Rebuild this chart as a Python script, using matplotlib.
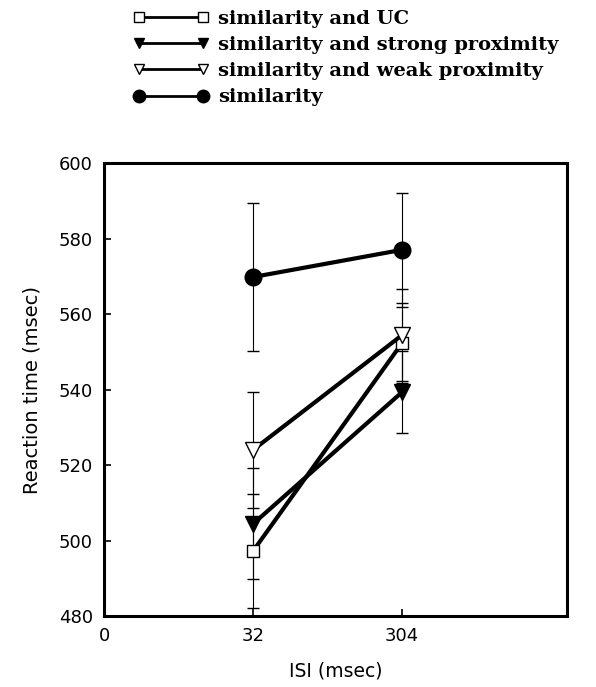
import matplotlib
matplotlib.use("Agg")
import matplotlib.pyplot as plt

isi_labels = ["32", "304"]
x_tick_labels = ["0", "32", "304"]

series_names = ["similarity and UC", "similarity and strong proximity",
                "similarity and weak proximity", "similarity"]
uc_rt = [497.2, 552.3]
uc_err = [15.0, 10.6]
strong_rt = [504.4, 539.3]
strong_err = [14.7, 10.8]
weak_rt = [524.0, 554.4]
weak_err = [15.3, 12.2]
sim_rt = [569.8, 577.0]
sim_err = [19.5, 15.1]

fig = plt.figure(figsize=(5.96, 6.87), dpi=100)
ax = fig.add_axes([0.1745, 0.1033, 0.7768, 0.6594])

xpos = [1, 2]
styles = [
    (uc_rt, uc_err, dict(marker="s", markersize=8, markerfacecolor="white"), 6.5),
    (strong_rt, strong_err, dict(marker="v", markersize=11, markerfacecolor="black"), 7.5),
    (weak_rt, weak_err, dict(marker="v", markersize=11, markerfacecolor="white"), 7.5),
    (sim_rt, sim_err, dict(marker="o", markersize=12, markerfacecolor="black"), 9),
]
handles = []
leg_sizes = []
for (vals, errs, st, lsz), name in zip(styles, series_names):
    ax.errorbar(xpos, vals, yerr=errs, fmt="none", ecolor="black",
                elinewidth=0.8, capsize=4, capthick=1.0, zorder=2)
    h, = ax.plot(xpos, vals, color="black", linewidth=3,
                 markeredgecolor="black", markeredgewidth=1.0,
                 label=name, zorder=3, **st)
    handles.append(h)
    leg_sizes.append(lsz)

ax.set_xlim(0, 3.107)
ax.set_ylim(480, 600)
ax.set_xticks([0, 1, 2])
ax.set_xticklabels(x_tick_labels)
ax.set_yticks(range(480, 601, 20))
ax.tick_params(direction="in", length=5, width=1.2, labelsize=13, pad=8)
for s in ax.spines.values():
    s.set_linewidth(2.2)
ax.set_xlabel("ISI (msec)", fontsize=13.5, labelpad=12)
ax.set_ylabel("Reaction time (msec)", fontsize=14, labelpad=12)

leg = fig.legend(handles=handles, labels=series_names, loc="upper left",
                 bbox_to_anchor=(0.2106, 0.997), frameon=False, numpoints=2,
                 handlelength=3.9, handletextpad=0.45, labelspacing=0.42,
                 borderaxespad=0,
                 prop=dict(family="DejaVu Serif", weight="bold", size=14))
for h, s in zip(leg.legend_handles, leg_sizes):
    h.set_linewidth(2.0)
    h.set_markersize(s)

fig.savefig("out.png", dpi=100)
